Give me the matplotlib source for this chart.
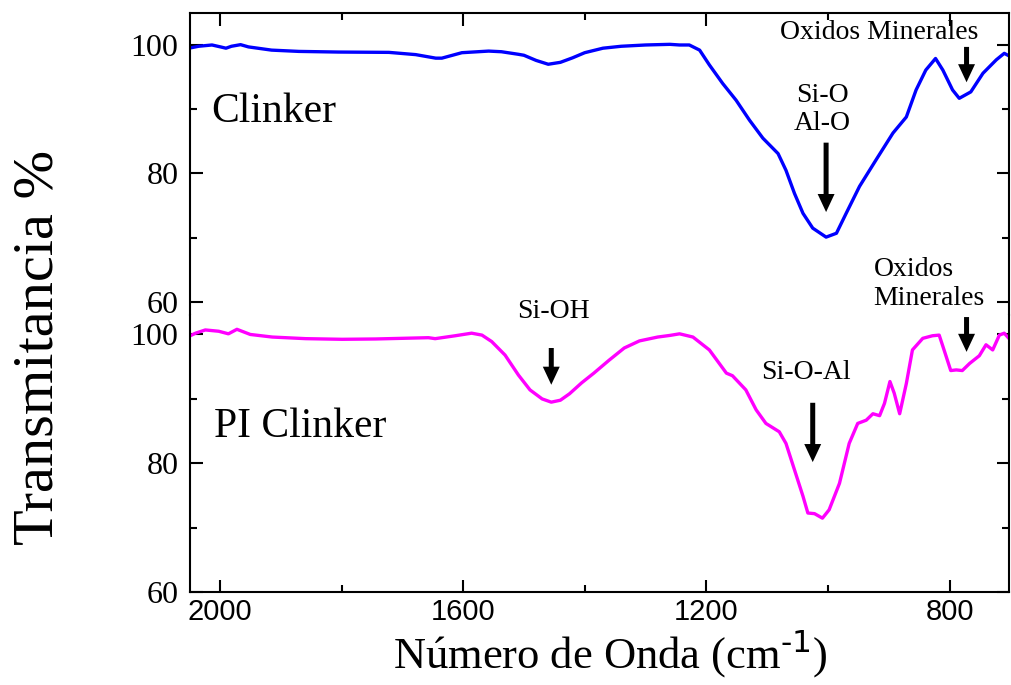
import numpy as np
import matplotlib.pyplot as plt
from matplotlib.ticker import MultipleLocator
from matplotlib.patches import ArrowStyle

# FTIR spectra, wavenumber (cm-1) vs transmittance (%)
wn_clinker = [2051, 2035, 2013, 1999, 1990, 1981, 1966, 1953, 1915, 1870,
              1805, 1722, 1678, 1645, 1635, 1602, 1558, 1537, 1509, 1500,
              1480, 1460, 1440, 1420, 1400, 1370, 1340, 1300, 1260, 1244,
              1228, 1211, 1195, 1173, 1151, 1129, 1107, 1082, 1069, 1055,
              1041, 1025, 1003, 986, 970, 948, 921, 893, 871, 855,
              839, 823, 811, 795, 784, 765, 745, 723, 710, 700]
t_clinker = [99.5, 99.8, 100.0, 99.7, 99.5, 99.8, 100.05, 99.7, 99.2, 99.0,
             98.9, 98.85, 98.5, 97.95, 97.95, 98.8, 99.05, 98.95, 98.55, 98.4,
             97.6, 97.0, 97.3, 98.0, 98.8, 99.5, 99.8, 100.0, 100.1, 100.0,
             100.0, 99.2, 96.9, 94.0, 91.4, 88.3, 85.5, 83.1, 80.5, 76.9,
             73.8, 71.5, 70.1, 70.7, 73.8, 78.0, 82.1, 86.3, 88.8, 93.0,
             96.1, 97.9, 96.1, 93.0, 91.7, 92.7, 95.6, 97.7, 98.7, 98.2]

wn_pi = [2051, 2040, 2024, 2002, 1986, 1972, 1950, 1914, 1859, 1799,
         1744, 1657, 1646, 1613, 1586, 1569, 1553, 1531, 1509, 1490,
         1470, 1455, 1440, 1425, 1405, 1385, 1360, 1335, 1310, 1280,
         1260, 1244, 1222, 1195, 1167, 1157, 1135, 1118, 1102, 1080,
         1069, 1055, 1041, 1033, 1022, 1009, 998, 981, 965, 951,
         937, 926, 915, 907, 898, 891, 882, 871, 861, 844,
         828, 817, 809, 798, 789, 779, 767, 751, 740, 729,
         718, 710, 700]
t_pi = [99.7, 100.2, 100.7, 100.5, 100.1, 100.8, 100.0, 99.6, 99.35, 99.25,
        99.3, 99.5, 99.35, 99.8, 100.2, 99.9, 98.9, 96.8, 93.7, 91.4,
        90.0, 89.5, 89.8, 90.8, 92.5, 94.0, 96.0, 97.9, 99.0, 99.6,
        99.85, 100.1, 99.6, 97.6, 94.0, 93.6, 91.4, 88.3, 86.2, 84.9,
        83.1, 79.0, 74.9, 72.3, 72.2, 71.5, 72.8, 76.9, 83.1, 86.2,
        86.7, 87.7, 87.4, 89.3, 92.7, 90.9, 87.7, 92.4, 97.6, 99.4,
        99.8, 99.9, 97.6, 94.4, 94.5, 94.4, 95.5, 96.7, 98.4, 97.6,
        99.9, 100.2, 99.15]

# band labels: (text, x, baseline y) and arrows: (x, y tail, y tip)
top_labels = [("Si-O", 1009, 91.1), ("Al-O", 1009, 86.8),
              ("Oxidos Minerales", 915, 100.9)]
top_arrows = [(1003, 84.8, 74.0), (772, 99.7, 94.2)]
bot_labels = [("Si-OH", 1451, 102.6), ("Si-O-Al", 1036, 93.1),
              ("Oxidos\nMinerales", 925, 104.6)]
bot_arrows = [(1455, 97.9, 92.2), (1025, 89.4, 80.2), (772, 102.7, 97.3)]

SERIF = ['Liberation Serif', 'DejaVu Serif']
SANS = ['Liberation Sans', 'DejaVu Sans']
plt.rcParams['font.family'] = SERIF

fig = plt.figure(figsize=(10.11, 6.85), dpi=100)
ax1 = fig.add_axes([0.18744, 0.54015, 0.81009, 0.44043])
ax2 = fig.add_axes([0.18744, 0.13533, 0.81009, 0.40482], sharex=ax1)

ax1.plot(wn_clinker, t_clinker, color='#0000ff', lw=2.4, solid_joinstyle='round')
ax2.plot(wn_pi, t_pi, color='#ff00ff', lw=2.4, solid_joinstyle='round')

ax1.set_xlim(2050, 703)
ax1.set_ylim(57.98, 104.93)
ax2.set_ylim(60.0, 103.02)

arrow = ArrowStyle('simple', head_length=0.65, head_width=0.61, tail_width=0.18)

for ax, labels, arrows in [(ax1, top_labels, top_arrows), (ax2, bot_labels, bot_arrows)]:
    for s, x, y in labels:
        ax.text(x, y, s, fontsize=20, ha='center' if '\n' not in s else 'left',
                va='baseline', linespacing=1.18, clip_on=False)
    for x, y0, y1 in arrows:
        ax.annotate('', xy=(x, y1), xytext=(x, y0),
                    arrowprops=dict(arrowstyle=arrow, fc='black', ec='none', lw=0,
                                    mutation_scale=20, shrinkA=0, shrinkB=0))
    ax.xaxis.set_major_locator(MultipleLocator(400))
    ax.xaxis.set_minor_locator(MultipleLocator(200))
    ax.yaxis.set_major_locator(MultipleLocator(20))
    ax.yaxis.set_minor_locator(MultipleLocator(10))
    ax.tick_params(which='both', direction='in', width=1.5, left=True, right=True)
    ax.tick_params(which='major', length=9)
    ax.tick_params(which='minor', length=5)
    ax.tick_params(axis='y', labelsize=23, pad=8)
    for sp in ax.spines.values():
        sp.set_linewidth(1.5)

ax1.text(2015, 88.0, "Clinker", fontsize=30, va='baseline')
ax2.text(2010, 84.1, "PI Clinker", fontsize=30, va='baseline')

# top panel: ticks on the upper edge only, no lower spine
ax1.spines['bottom'].set_visible(False)
ax1.tick_params(axis='x', which='both', bottom=False, top=True, labelbottom=False)
ax2.spines['top'].set_visible(False)
ax2.tick_params(axis='x', which='both', bottom=True, top=False, labelsize=21, pad=4)
for lab in ax2.get_xticklabels():
    lab.set_family(SANS)

ax2.set_xlabel("Número de Onda (cm$^{\\text{-1}}$)", fontsize=32)
ax2.xaxis.set_label_coords(0.5134, -0.2766)
ax2.xaxis.label.set_va('baseline')

fig.text(0.0376, 0.4934, "Transmitancia %", fontsize=42, rotation=90,
         ha='center', va='center')

fig.savefig('out.png', dpi=100)
